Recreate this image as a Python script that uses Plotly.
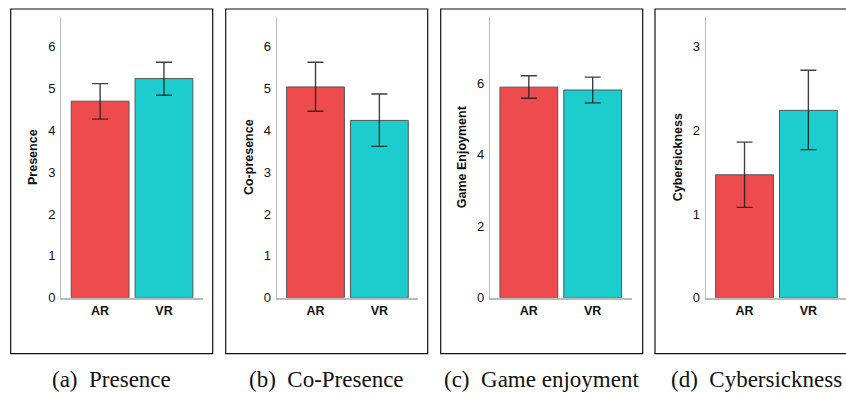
import plotly.graph_objects as go

W, H = 846, 393

categories = ["AR", "VR"]
colors = ["#EE4B4E", "#1DCDCD"]

titles = ["Presence", "Co-presence", "Game Enjoyment", "Cybersickness"]
captions = ["(a)  Presence", "(b)  Co-Presence", "(c)  Game enjoyment", "(d)  Cybersickness"]

presence_mean = [4.70, 5.24]
presence_low = [4.27, 4.84]
presence_high = [5.12, 5.63]

copresence_mean = [5.04, 4.24]
copresence_low = [4.46, 3.62]
copresence_high = [5.63, 4.87]

enjoyment_mean = [5.89, 5.81]
enjoyment_low = [5.58, 5.45]
enjoyment_high = [6.21, 6.17]

cyber_mean = [1.47, 2.24]
cyber_low = [1.08, 1.77]
cyber_high = [1.86, 2.72]

y_ticks = [[0, 1, 2, 3, 4, 5, 6], [0, 1, 2, 3, 4, 5, 6], [0, 2, 4, 6], [0, 1, 2, 3]]
y_max = [6.72, 6.72, 7.86, 3.36]

series = [
    (presence_mean, presence_low, presence_high),
    (copresence_mean, copresence_low, copresence_high),
    (enjoyment_mean, enjoyment_low, enjoyment_high),
    (cyber_mean, cyber_low, cyber_high),
]

# layout geometry (pixels)
axis_left = [61.3, 276.7, 490.0, 705.7]
axis_w = 141.5
y_top_px, y_bot_px = 16.7, 297.7
box_left = [10.7, 225.7, 440.7, 655.0]
box_w = 202.0
box_top, box_bot = 9.0, 353.7

SANS = "Liberation Sans, Arial"
FS = 12.5

fig = go.Figure()
layout = dict(
    width=W, height=H,
    margin=dict(l=0, r=0, t=0, b=0),
    paper_bgcolor="white", plot_bgcolor="white",
    showlegend=False,
    font=dict(family=SANS, size=FS, color="#111"),
    shapes=[], annotations=[],
)

for i, (m, lo, hi) in enumerate(series):
    xa = "x" if i == 0 else f"x{i+1}"
    ya = "y" if i == 0 else f"y{i+1}"
    fig.add_trace(go.Bar(
        x=categories, y=m,
        marker=dict(color=colors, line=dict(color="#555555", width=1)),
        width=0.905,
        error_y=dict(type="data", symmetric=False,
                     array=[h - v for h, v in zip(hi, m)],
                     arrayminus=[v - l for v, l in zip(m, lo)],
                     color="rgba(30,30,30,0.85)", thickness=1.4, width=8),
        xaxis=xa, yaxis=ya,
    ))
    x0 = axis_left[i] / W
    x1 = min((axis_left[i] + axis_w) / W, 1.0)
    span = 2.216 * (x1 - x0) * W / axis_w
    layout["xaxis" if i == 0 else f"xaxis{i+1}"] = dict(
        domain=[x0, x1], anchor=ya, range=[-0.608, -0.608 + span],
        showline=True, linecolor="#BBBBBB", linewidth=2,
        showgrid=False, zeroline=False, ticks="", automargin=False,
        tickfont=dict(size=FS, family=SANS, color="#111", weight="bold"),
        fixedrange=True,
    )
    layout["yaxis" if i == 0 else f"yaxis{i+1}"] = dict(
        domain=[1 - y_bot_px / H, 1 - y_top_px / H], anchor=xa,
        range=[0, y_max[i]], tickvals=y_ticks[i],
        showline=True, linecolor="#BBBBBB", linewidth=1.2,
        showgrid=False, zeroline=False, ticks="", automargin=False,
        ticklabelstandoff=2,
        tickfont=dict(size=13, family=SANS, color="#111"),
        title=dict(text=titles[i], standoff=7,
                   font=dict(size=FS, family=SANS, color="#111", weight="bold")),
        fixedrange=True,
    )
    layout["shapes"].append(dict(
        type="rect", xref="paper", yref="paper",
        x0=box_left[i] / W, x1=(box_left[i] + box_w) / W,
        y0=1 - box_bot / H, y1=1 - box_top / H,
        line=dict(color="#111111", width=1.2), fillcolor="rgba(0,0,0,0)", layer="below",
    ))
    layout["annotations"].append(dict(
        text=captions[i], xref="paper", yref="paper",
        x=(box_left[i] + box_w / 2) / W, y=0,
        xanchor="center", yanchor="bottom", showarrow=False, borderpad=0,
        font=dict(family="Liberation Serif, Times New Roman", size=23, color="#111"),
    ))

fig.update_layout(**layout)
fig.write_html("out.html",
               config={"displayModeBar": False, "staticPlot": True},
               post_script="document.body.style.margin='0';document.body.style.overflow='hidden';")
